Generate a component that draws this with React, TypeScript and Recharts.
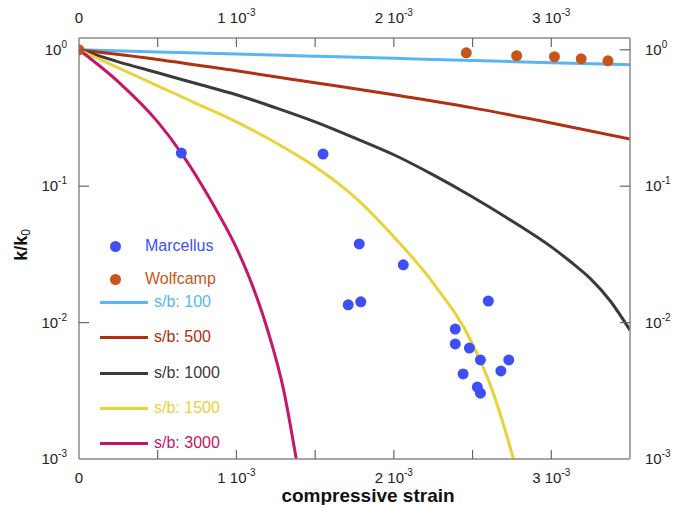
import React from "react";
import { ComposedChart, Line, Scatter, XAxis, YAxis } from "recharts";

// axis ticks
const strainTicks = [0, 0.0005, 0.001, 0.0015, 0.002, 0.0025, 0.003];
const kTicks = [0.001, 0.01, 0.1, 1];

// model curves (strain, k/k0)
const sb100Strain = [0, 0.0005, 0.001, 0.0015, 0.002, 0.0025, 0.003, 0.0035];
const sb100K = [1, 0.964, 0.93, 0.897, 0.865, 0.834, 0.805, 0.776];

const sb500Strain = [0, 0.0005, 0.001, 0.0015, 0.002, 0.0025, 0.003, 0.0035];
const sb500K = [1, 0.85, 0.701, 0.573, 0.468, 0.375, 0.291, 0.222];

const sb1000Strain = [
  0, 0.00025, 0.0005, 0.00075, 0.001, 0.00125, 0.0015, 0.00175, 0.002,
  0.00225, 0.0025, 0.00275, 0.003, 0.003125, 0.00325, 0.003375, 0.0035,
];
const sb1000K = [
  1, 0.816, 0.678, 0.563, 0.468, 0.375, 0.296, 0.226, 0.17,
  0.121, 0.0834, 0.0556, 0.0359, 0.0278, 0.0209, 0.0144, 0.0088,
];

const sb1500Strain = [
  0, 0.00025, 0.0005, 0.00075, 0.001, 0.00125, 0.0015, 0.00175, 0.002,
  0.00225, 0.0025, 0.00262, 0.00268, 0.00276,
];
const sb1500K = [
  1, 0.738, 0.544, 0.402, 0.296, 0.208, 0.1386, 0.0834, 0.0425,
  0.0195, 0.00697, 0.00331, 0.00206, 0.001,
];

const sb3000Strain = [0, 0.00025, 0.0005, 0.00065, 0.00085, 0.001, 0.0011, 0.0012, 0.0013, 0.00138];
const sb3000K = [1, 0.582, 0.296, 0.175, 0.0742, 0.0353, 0.0189, 0.00868, 0.0032, 0.001];

// measurements
const marcellusStrain = [
  0.00065, 0.00155, 0.00178, 0.00206, 0.00171, 0.00179, 0.0026, 0.00239,
  0.00239, 0.00248, 0.00255, 0.00273, 0.00268, 0.00244, 0.00253, 0.00255,
];
const marcellusK = [
  0.175, 0.172, 0.0377, 0.0265, 0.0135, 0.0142, 0.0144, 0.00897,
  0.00697, 0.00651, 0.00532, 0.00532, 0.00442, 0.0042, 0.00337, 0.00304,
];

const wolfcampStrain = [0, 0.00246, 0.00278, 0.00302, 0.00319, 0.00336];
const wolfcampK = [1, 0.95, 0.904, 0.889, 0.859, 0.83];

const toPoints = (s: number[], k: number[]) => s.map((x, i) => ({ strain: x, k: k[i] }));

const curves = [
  { name: "s/b: 100", data: toPoints(sb100Strain, sb100K), color: "#58b6f2" },
  { name: "s/b: 500", data: toPoints(sb500Strain, sb500K), color: "#b0300f" },
  { name: "s/b: 1000", data: toPoints(sb1000Strain, sb1000K), color: "#3a3a3a" },
  { name: "s/b: 1500", data: toPoints(sb1500Strain, sb1500K), color: "#ead23a" },
  { name: "s/b: 3000", data: toPoints(sb3000Strain, sb3000K), color: "#c5156c" },
];

const MARCELLUS = "#3f4ff6";
const WOLFCAMP = "#c8561c";
const FRAME = "#8a8a8a";
const FONT = "'Liberation Sans', Arial, sans-serif";

const strainLabel = (v: number) => {
  const n = Math.round(v * 1000 * 100) / 100;
  if (n === 0) return "0";
  if (!Number.isInteger(n)) return null;
  return n;
};

const XTick = ({ x, y, payload, side }: any) => {
  const n = strainLabel(payload.value);
  const isTop = side === "top";
  const dir = isTop ? 1 : -1;
  return (
    <g>
      {payload.value > 0 && (
        <line x1={x} x2={x} y1={y} y2={y + dir * 9} stroke="#666" strokeWidth={1.2} />
      )}
      {n !== null && (
        <text x={x} y={isTop ? y - 15 : y + 24} textAnchor="middle" fontSize={15} fill="#222" fontFamily={FONT}>
          {n === "0" ? "0" : `${n} 10`}
          {n !== "0" && (
            <tspan dy={-7} fontSize={10}>
              -3
            </tspan>
          )}
        </text>
      )}
    </g>
  );
};

const YTick = ({ x, y, payload, side }: any) => {
  const exp = Math.round(Math.log10(payload.value));
  const isRight = side === "right";
  const dir = isRight ? -1 : 1;
  return (
    <g>
      {exp > -3 && <line x1={x} x2={x + dir * 10} y1={y} y2={y} stroke="#666" strokeWidth={1.2} />}
      <text
        x={isRight ? x + 15 : x - 12}
        y={y + 5}
        textAnchor={isRight ? "start" : "end"}
        fontSize={15}
        fill="#222"
        fontFamily={FONT}
      >
        10
        <tspan dy={-7} fontSize={10}>
          {exp === 0 ? "0" : `${exp}`}
        </tspan>
      </text>
    </g>
  );
};

const ChartLegend = () => {
  const rowText = { position: "absolute" as const, fontSize: 16, fontFamily: FONT, lineHeight: "18px" };
  const dots = [
    { name: "Marcellus", color: MARCELLUS, y: 238 },
    { name: "Wolfcamp", color: WOLFCAMP, y: 271 },
  ];
  const lineRows = [294, 329, 365, 400, 435];
  return (
    <>
      {dots.map((d) => (
        <React.Fragment key={d.name}>
          <div
            style={{
              position: "absolute",
              left: 101.5,
              top: d.y - 5.5,
              width: 11,
              height: 11,
              borderRadius: "50%",
              background: d.color,
            }}
          />
          <div style={{ ...rowText, left: 137, top: d.y - 9, color: d.color }}>{d.name}</div>
        </React.Fragment>
      ))}
      {curves.map((c, i) => (
        <React.Fragment key={c.name}>
          <div
            style={{
              position: "absolute",
              left: 92,
              top: lineRows[i] - 1.5,
              width: 48,
              height: 3,
              background: c.color,
            }}
          />
          <div style={{ ...rowText, left: 146, top: lineRows[i] - 9, color: c.color }}>{c.name}</div>
        </React.Fragment>
      ))}
    </>
  );
};

export default function App() {
  const marcellus = toPoints(marcellusStrain, marcellusK);
  const wolfcamp = toPoints(wolfcampStrain, wolfcampK);
  return (
    <div style={{ position: "relative", width: 674, height: 497, fontFamily: FONT }}>
      <ComposedChart width={674} height={497} margin={{ top: 0, right: 0, bottom: 0, left: 0 }}>
        <XAxis
          dataKey="strain"
          type="number"
          domain={[0, 0.0035]}
          ticks={strainTicks}
          allowDataOverflow
          height={46}
          tickSize={0}
          tickMargin={0}
          axisLine={{ stroke: FRAME, strokeWidth: 1.5 }}
          tick={(p: any) => <XTick {...p} side="bottom" />}
          interval={0}
        />
        <XAxis
          xAxisId="top"
          dataKey="strain"
          orientation="top"
          type="number"
          domain={[0, 0.0035]}
          ticks={strainTicks}
          allowDataOverflow
          height={30}
          tickSize={0}
          tickMargin={0}
          axisLine={{ stroke: FRAME, strokeWidth: 1.5 }}
          tick={(p: any) => <XTick {...p} side="top" />}
          interval={0}
        />
        <YAxis
          dataKey="k"
          scale="log"
          domain={[0.001, 1.22]}
          ticks={kTicks}
          allowDataOverflow
          width={71}
          tickSize={0}
          tickMargin={0}
          axisLine={{ stroke: FRAME, strokeWidth: 1.5 }}
          tick={(p: any) => <YTick {...p} side="left" />}
          interval={0}
        />
        <YAxis
          yAxisId="right"
          dataKey="k"
          orientation="right"
          scale="log"
          domain={[0.001, 1.22]}
          ticks={kTicks}
          allowDataOverflow
          width={52}
          tickSize={0}
          tickMargin={0}
          axisLine={{ stroke: FRAME, strokeWidth: 1.5 }}
          tick={(p: any) => <YTick {...p} side="right" />}
          interval={0}
        />
        {curves.map((c) => (
          <Line
            key={c.name}
            data={c.data}
            dataKey="k"
            type="monotone"
            stroke={c.color}
            strokeWidth={3}
            dot={false}
            activeDot={false}
            isAnimationActive={false}
          />
        ))}
        <Scatter
          data={marcellus}
          fill={MARCELLUS}
          shape={(p: any) => <circle cx={p.cx} cy={p.cy} r={5.5} fill={MARCELLUS} />}
          isAnimationActive={false}
        />
        <Scatter
          data={wolfcamp}
          fill={WOLFCAMP}
          shape={(p: any) => <circle cx={p.cx} cy={p.cy} r={5.5} fill={WOLFCAMP} />}
          isAnimationActive={false}
        />
        {/* keeps the mirrored top/right axes tied to the same data */}
        <Scatter
          data={wolfcamp}
          xAxisId="top"
          yAxisId="right"
          shape={() => <g />}
          isAnimationActive={false}
        />
      </ComposedChart>
      <ChartLegend />
      <div
        style={{
          position: "absolute",
          left: 14,
          top: 237,
          transform: "translate(-50%, -50%) rotate(-90deg)",
          fontSize: 18,
          fontWeight: "bold",
          color: "#111",
          whiteSpace: "nowrap",
        }}
      >
        k/k<sub style={{ fontSize: 12, fontWeight: "normal", verticalAlign: "-3px" }}>0</sub>
      </div>
      <div
        style={{
          position: "absolute",
          left: 360,
          top: 488,
          transform: "translate(-50%, -50%)",
          fontSize: 19,
          fontWeight: "bold",
          color: "#111",
          whiteSpace: "nowrap",
        }}
      >
        compressive strain
      </div>
    </div>
  );
}
